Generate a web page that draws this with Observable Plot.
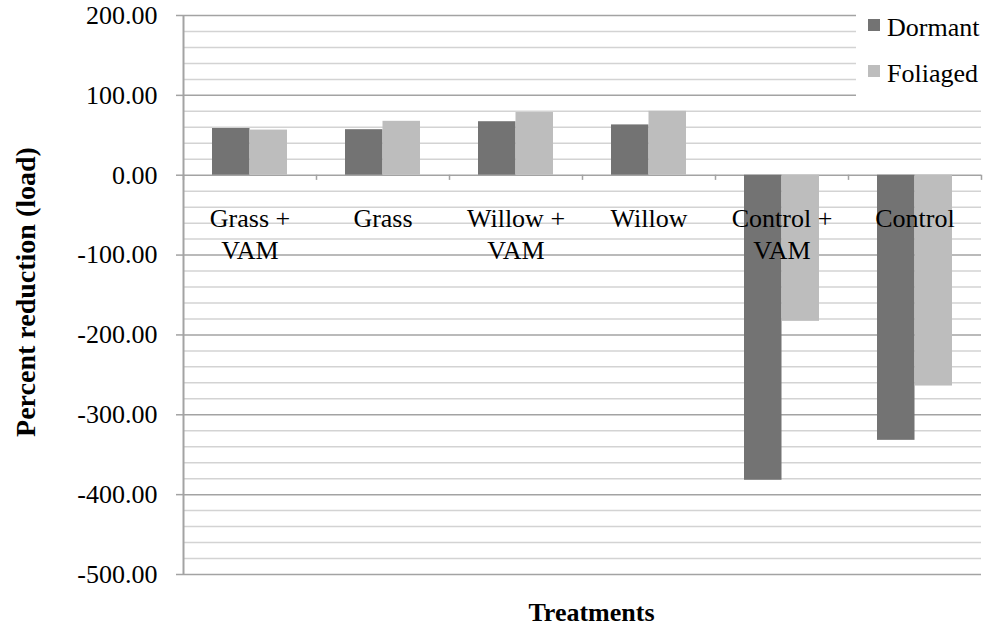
<!DOCTYPE html>
<html>
<head>
<meta charset="utf-8">
<script src="https://cdn.jsdelivr.net/npm/d3@7"></script>
<script src="https://cdn.jsdelivr.net/npm/@observablehq/plot@0.6"></script>
<style>
  html, body { margin: 0; padding: 0; background: white; }
  #wrap { position: relative; width: 984px; height: 636px; font-family: 'Liberation Serif', serif; }
  #legend { position: absolute; left: 856px; top: 0; width: 128px; height: 101px; background: white; }
  .item { position: absolute; left: 0; font-size: 26px; line-height: 26px; color: #000; white-space: nowrap; font-family: 'Liberation Serif', serif; }
  .sw { position: absolute; width: 12px; height: 12px; left: 12px; }
  .lab { position: absolute; left: 31px; }
</style>
</head>
<body>
<div id="wrap"></div>
<script>
const categories = ["Grass +\nVAM", "Grass", "Willow +\nVAM", "Willow", "Control +\nVAM", "Control"];
const seriesNames = ["Dormant", "Foliaged"];
const dormant = [58.5, 57, 67, 63, -382, -332];
const foliaged = [56.5, 67.5, 78.5, 80, -183, -264];
const yTicks = [200, 100, 0, -100, -200, -300, -400, -500];
const colors = ["#737373", "#bdbdbd"];

const W = 984, H = 636, mL = 183, mR = 3, mT = 15, mB = 62;
const bw = (W - mL - mR) / categories.length;
const barW = 37.5;
const outer = bw / 2 - barW;
const serifFont = "'Liberation Serif', serif";

const minor = d3.range(-500, 201, 20).filter(v => !yTicks.includes(v));

const rows = categories.map((c, i) => ({cat: c, Dormant: dormant[i], Foliaged: foliaged[i]}));

const chart = Plot.plot({
  width: W, height: H,
  marginLeft: mL, marginRight: mR, marginTop: mT, marginBottom: mB,
  x: {domain: categories, padding: 0, axis: null},
  y: {domain: [-500, 200], axis: null},
  style: {fontFamily: serifFont, fontSize: "26px", background: "white", color: "black"},
  marks: [
    Plot.ruleY(minor, {stroke: "#d3d3d3", strokeWidth: 1.5}),
    Plot.ruleY(yTicks, {stroke: "#a3a3a3", strokeWidth: 1.5}),
    Plot.ruleX(categories.slice(0, 1), {x: d => d, dx: -bw / 2, stroke: "#a3a3a3", strokeWidth: 2}),
    Plot.axisY(yTicks, {tickSize: 7, tickPadding: 19, tickFormat: d => d.toFixed(2), stroke: "#a3a3a3", strokeWidth: 1.5, fontSize: 26, fontFamily: serifFont, label: null}),
    Plot.ruleX(categories, {x: d => d, y1: () => 0, y2: () => -6.5, dx: -bw / 2, stroke: "#a3a3a3", strokeWidth: 1.5}),
    Plot.ruleX(categories.slice(-1), {x: d => d, y1: () => 0, y2: () => -6.5, dx: bw / 2, stroke: "#a3a3a3", strokeWidth: 1.5}),
    Plot.barY(rows, {x: "cat", y: "Dormant", fill: colors[0], insetLeft: outer, insetRight: bw / 2}),
    Plot.barY(rows, {x: "cat", y: "Foliaged", fill: colors[1], insetLeft: bw / 2, insetRight: outer}),
    Plot.text(categories, {x: d => d, y: () => 0, text: d => d, lineAnchor: "top", dy: 29, lineHeight: 1.23, fontSize: 26, fontFamily: serifFont, fill: "black"}),
    Plot.text(["Percent reduction (load)"], {frameAnchor: "left", textAnchor: "middle", dx: -157, dy: -3, rotate: -90, fontWeight: "bold", fontSize: 28, fontFamily: serifFont, fill: "black"}),
    Plot.text(["Treatments"], {frameAnchor: "bottom", dy: 46, dx: 9, fontWeight: "bold", fontSize: 26, fontFamily: serifFont, fill: "black"})
  ]
});

const wrap = document.getElementById("wrap");
wrap.appendChild(chart);
const legend = document.createElement("div");
legend.id = "legend";
seriesNames.forEach((name, i) => {
  const item = document.createElement("div");
  item.className = "item";
  item.style.top = (15 + i * 46) + "px";
  const sw = document.createElement("div");
  sw.className = "sw";
  sw.style.background = colors[i];
  sw.style.top = "4px";
  const lab = document.createElement("span");
  lab.className = "lab";
  lab.textContent = name;
  item.appendChild(sw);
  item.appendChild(lab);
  legend.appendChild(item);
});
wrap.appendChild(legend);
</script>
</body>
</html>
